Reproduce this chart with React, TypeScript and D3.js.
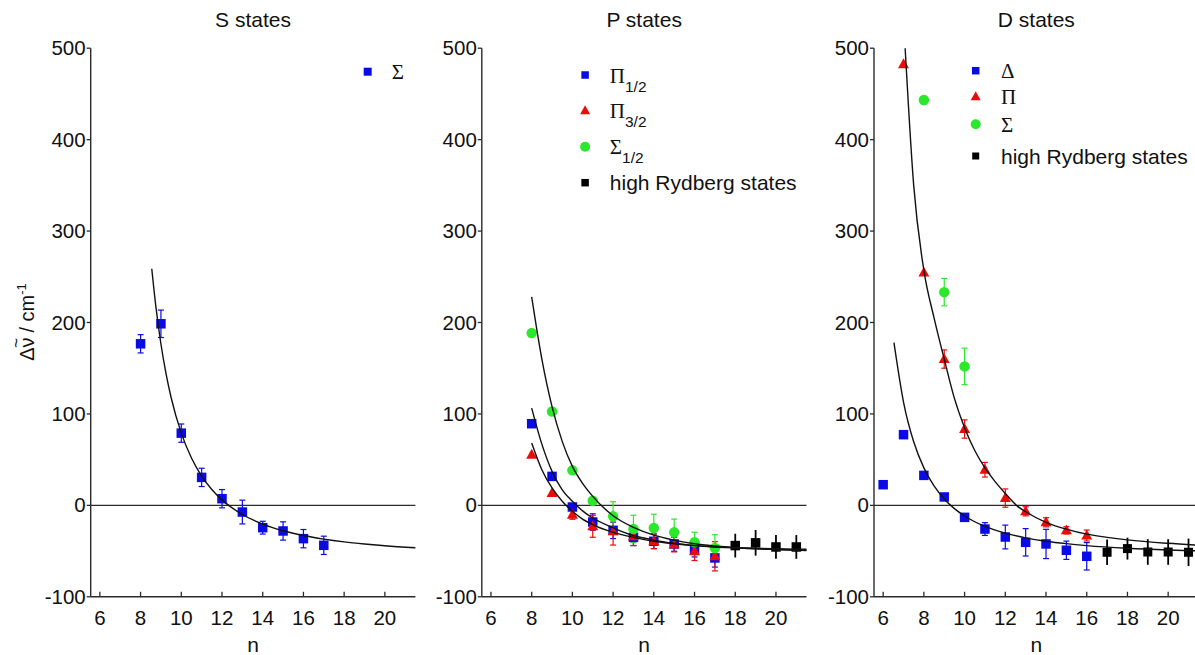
import React from "react";
import * as d3 from "d3";

// ---------- data: S states ----------
const sN = [8, 9, 10, 11, 12, 13, 14, 15, 16, 17];
const sSigma = [176.7, 198.6, 79, 30.6, 7.3, -7.3, -24.4, -28, -36.4, -43.7];
const sSigmaErr = [10, 15, 10, 10, 10, 13, 7, 10, 10, 10];
const sFitN = [8.55, 8.75, 9, 9.25, 9.5, 10, 10.5, 11, 11.5, 12, 13, 14, 15, 16, 17, 18, 19, 20, 21.5];
const sFitV = [258.8, 217.6, 176.5, 144.1, 118, 79, 51.8, 32.1, 17.4, 6, -10, -20.5, -27.8, -33, -36.9, -39.9, -42.2, -44.1, -46.3];

// ---------- data: P states ----------
const pN = [8, 9, 10, 11, 12, 13, 14, 15, 16, 17];
const pPi12 = [89.3, 31.7, -1.8, -18.2, -27.3, -35, -39.3, -42.2, -48.4, -57.5];
const pPi12Err = [0, 0, 0, 9, 9, 9, 8, 8, 8, 10];
const pPi32 = [55.4, 13.5, -10.2, -22.9, -28.4, -33.9, -39.3, -42.9, -50.3, -55.7];
const pPi32Err = [0, 0, 5, 12, 15, 10, 8, 8, 10, 16];
const pSig12 = [188.4, 102.7, 38.3, 5.1, -12, -25.8, -24.7, -29.5, -40.4, -46.6];
const pSig12Err = [0, 0, 0, 0, 16, 15, 15, 14.5, 11, 14.5];
const pHighN = [18, 19, 20, 21];
const pHigh = [-44, -41, -45.5, -45.5];
const pHighErr = [13, 14, 13, 13];
const pFitN = [8, 8.5, 9, 9.5, 10, 10.5, 11, 12, 13, 14, 15, 16, 17, 18, 20, 21.5];
const pFitSig12 = [228, 160, 108, 70, 42.6, 24, 9.8, -11.3, -24, -32.5, -38, -42, -44.5, -46.3, -48.3, -49.3];
const pFitPi12 = [106.4, 67, 37.2, 17, 4.4, -6, -13.8, -24.5, -33, -38, -41.5, -44, -45.5, -46.5, -48.2, -49];
const pFitPi32 = [68.2, 39, 19, 4.5, -6.5, -15, -21, -29.5, -35, -39.3, -42, -44, -45.3, -46.2, -47.4, -48];

// ---------- data: D states ----------
const dDeltaN = [6, 7, 8, 9, 10, 11, 12, 13, 14, 15, 16];
const dDelta = [22.6, 77.3, 32.8, 9.2, -13.1, -25.9, -34.6, -40.4, -42.2, -49.1, -55.7];
const dDeltaErr = [0, 0, 0, 0, 0, 7, 13, 15, 16, 10, 15];
const dPiN = [7, 8, 9, 10, 11, 12, 13, 14, 15, 16];
const dPi = [482.4, 254.6, 160, 83.5, 39, 8, -6.5, -18.5, -27.3, -33];
const dPiErr = [0, 0, 10, 10, 8, 10, 5, 5, 4, 6];
const dSigN = [8, 9, 10];
const dSig = [443.4, 233.2, 152];
const dSigErr = [0, 15, 20];
const dHighN = [17, 18, 19, 20, 21];
const dHigh = [-51.3, -47.3, -51, -51, -51.3];
const dHighErr = [14, 12, 14, 14, 15];
const dFitPiN = [7.08, 7.5, 8, 8.5, 9, 9.5, 10, 10.5, 11, 11.5, 12, 12.55, 13, 14, 15, 16, 17, 18, 20, 21.5];
const dFitPiV = [500, 350, 257, 205, 160, 117, 85, 60, 41, 26, 13, 0, -7, -18.5, -26, -31.5, -35, -37.8, -41.5, -43.5];
const dFitDeltaN = [6.53, 7, 7.5, 8, 8.5, 9, 9.5, 10, 11, 12, 13, 14, 15, 16, 18, 20, 21.5];
const dFitDeltaV = [178, 113, 69.5, 41, 21.2, 7, -3.6, -11.6, -23, -30.4, -35.5, -39.2, -41.9, -44, -46.9, -48.8, -49.8];

// ---------- axes ----------
const xTicks = [6, 8, 10, 12, 14, 16, 18, 20];
const yTicks = [-100, 0, 100, 200, 300, 400, 500];
const titles = ["S states", "P states", "D states"];

// ---------- styling ----------
const SANS = "'Liberation Sans', Arial, Helvetica, sans-serif";
const SERIF = "'Liberation Serif', 'Times New Roman', serif";
const BLUE = "#0a0ae6";
const RED = "#ec0b0b";
const GREEN = "#2ce82c";
const BLACK = "#000000";
const AXIS = "#2a2a2a";
const TEXT = "#111";

const W = 1195;
const H = 655;
const PANEL_LEFTS = [90.7, 481.8, 874];
const PANEL_W = 324.7;
const Y_TOP = 48.2;
const Y_BOTTOM = 596.8;
const legendMarkerDx = [277, 103.3, 101.7];
const legendTextDx = [301, 128, 127];

type Shape = "square" | "triangle" | "circle";
type Series = { n: number[]; v: number[]; err: number[]; shape: Shape; color: string; size: number; caps: boolean };
type Fit = { n: number[]; v: number[] };
type LegendItem = { shape: Shape; color: string; size: number; main: string; sub?: string; serif: boolean; y: number };

const zip = (n: number[], v: number[]) => n.map((d, i) => [d, v[i]] as [number, number]);

function Marker({ shape, x, y, size, color }: { shape: Shape; x: number; y: number; size: number; color: string }) {
  if (shape === "square") {
    return <rect x={x - size / 2} y={y - size / 2} width={size} height={size} fill={color} />;
  }
  if (shape === "circle") {
    return <circle cx={x} cy={y} r={size / 2} fill={color} />;
  }
  const h = size * 0.9;
  return (
    <polygon
      points={`${x},${y - h * 0.6} ${x - size / 2},${y + h * 0.4} ${x + size / 2},${y + h * 0.4}`}
      fill={color}
    />
  );
}

function Panel({ idx, series, fits, legend }: { idx: number; series: Series[]; fits: Fit[]; legend: LegendItem[] }) {
  const left = PANEL_LEFTS[idx];
  const right = left + PANEL_W;
  const x = d3.scaleLinear().domain([5.55, 21.5]).range([left, right]);
  const y = d3.scaleLinear().domain([-100, 500]).range([Y_BOTTOM, Y_TOP]);
  const line = d3
    .line<[number, number]>()
    .x((d) => x(d[0]))
    .y((d) => y(d[1]))
    .curve(d3.curveMonotoneX);
  const cx = (left + right) / 2;
  return (
    <g>
      <text x={cx} y={27} textAnchor="middle" fontFamily={SANS} fontSize={21} fill={TEXT}>
        {titles[idx]}
      </text>
      <line x1={left} x2={right} y1={y(0)} y2={y(0)} stroke={AXIS} strokeWidth={1.3} />
      <line x1={left} x2={left} y1={y(500)} y2={y(-100)} stroke={AXIS} strokeWidth={1.4} />
      <line x1={left} x2={right} y1={y(-100)} y2={y(-100)} stroke={AXIS} strokeWidth={1.4} />
      {yTicks.map((t) => (
        <g key={"y" + t}>
          <line x1={left - 4} x2={left} y1={y(t)} y2={y(t)} stroke={AXIS} strokeWidth={1.3} />
          <text x={left - 5} y={y(t) + 7} textAnchor="end" fontFamily={SANS} fontSize={20.5} fill={TEXT}>
            {t}
          </text>
        </g>
      ))}
      {xTicks.map((t) => (
        <g key={"x" + t}>
          <line x1={x(t)} x2={x(t)} y1={y(-100)} y2={y(-100) - 5} stroke={AXIS} strokeWidth={1.3} />
          <text x={x(t)} y={y(-100) + 28} textAnchor="middle" fontFamily={SANS} fontSize={20.5} fill={TEXT}>
            {t}
          </text>
        </g>
      ))}
      <text x={cx} y={652} textAnchor="middle" fontFamily={SANS} fontSize={21} fill={TEXT}>
        n
      </text>
      {series.map((s, si) =>
        s.n.map((n, i) => {
          const e = s.err[i];
          if (!e) return null;
          const px = x(n);
          return (
            <g key={`e${si}-${i}`} stroke={s.color} strokeWidth={s.caps ? 1.2 : 1.8}>
              <line x1={px} x2={px} y1={y(s.v[i] - e)} y2={y(s.v[i] + e)} />
              {s.caps && (
                <>
                  <line x1={px - 3} x2={px + 3} y1={y(s.v[i] - e)} y2={y(s.v[i] - e)} />
                  <line x1={px - 3} x2={px + 3} y1={y(s.v[i] + e)} y2={y(s.v[i] + e)} />
                </>
              )}
            </g>
          );
        })
      )}
      {series.map((s, si) =>
        s.n.map((n, i) => (
          <Marker key={`m${si}-${i}`} shape={s.shape} x={x(n)} y={y(s.v[i])} size={s.size} color={s.color} />
        ))
      )}
      {fits.map((f, fi) => (
        <path key={"f" + fi} d={line(zip(f.n, f.v)) || ""} fill="none" stroke="#111" strokeWidth={1.4} />
      ))}
      {legend.map((l, li) => (
        <g key={"l" + li}>
          <Marker shape={l.shape} x={left + legendMarkerDx[idx]} y={l.y} size={l.size} color={l.color} />
          <text
            x={left + legendTextDx[idx]}
            y={l.y + 7.5}
            fontFamily={l.serif ? SERIF : SANS}
            fontSize={21}
            fill={TEXT}
          >
            {l.main}
            {l.sub && (
              <tspan fontFamily={SANS} fontSize={15.5} dy={9}>
                {l.sub}
              </tspan>
            )}
          </text>
        </g>
      ))}
    </g>
  );
}

export default function App() {
  const sSeries: Series[] = [
    { n: sN, v: sSigma, err: sSigmaErr, shape: "square", color: BLUE, size: 9.5, caps: true },
  ];
  const sFits: Fit[] = [{ n: sFitN, v: sFitV }];
  const sLegend: LegendItem[] = [{ shape: "square", color: BLUE, size: 8, main: "Σ", serif: true, y: 71.7 }];

  const pSeries: Series[] = [
    { n: pN, v: pPi12, err: pPi12Err, shape: "square", color: BLUE, size: 9.5, caps: true },
    { n: pN, v: pPi32, err: pPi32Err, shape: "triangle", color: RED, size: 11, caps: true },
    { n: pN, v: pSig12, err: pSig12Err, shape: "circle", color: GREEN, size: 10.5, caps: true },
    { n: pHighN, v: pHigh, err: pHighErr, shape: "square", color: BLACK, size: 9.5, caps: false },
  ];
  const pFits: Fit[] = [
    { n: pFitN, v: pFitSig12 },
    { n: pFitN, v: pFitPi12 },
    { n: pFitN, v: pFitPi32 },
  ];
  const pLegend: LegendItem[] = [
    { shape: "square", color: BLUE, size: 7.5, main: "Π", sub: "1/2", serif: true, y: 75 },
    { shape: "triangle", color: RED, size: 10, main: "Π", sub: "3/2", serif: true, y: 110.7 },
    { shape: "circle", color: GREEN, size: 10, main: "Σ", sub: "1/2", serif: true, y: 146.7 },
    { shape: "square", color: BLACK, size: 7.5, main: "high Rydberg states", serif: false, y: 182.7 },
  ];

  const dSeries: Series[] = [
    { n: dDeltaN, v: dDelta, err: dDeltaErr, shape: "square", color: BLUE, size: 9.5, caps: true },
    { n: dPiN, v: dPi, err: dPiErr, shape: "triangle", color: RED, size: 11, caps: true },
    { n: dSigN, v: dSig, err: dSigErr, shape: "circle", color: GREEN, size: 10.5, caps: true },
    { n: dHighN, v: dHigh, err: dHighErr, shape: "square", color: BLACK, size: 9, caps: false },
  ];
  const dFits: Fit[] = [
    { n: dFitPiN, v: dFitPiV },
    { n: dFitDeltaN, v: dFitDeltaV },
  ];
  const dLegend: LegendItem[] = [
    { shape: "square", color: BLUE, size: 7.5, main: "Δ", serif: true, y: 70.7 },
    { shape: "triangle", color: RED, size: 10, main: "Π", serif: true, y: 96.7 },
    { shape: "circle", color: GREEN, size: 10, main: "Σ", serif: true, y: 124.3 },
    { shape: "square", color: BLACK, size: 7, main: "high Rydberg states", serif: false, y: 156 },
  ];

  return (
    <svg
      width={W}
      height={H}
      viewBox={`0 0 ${W} ${H}`}
      style={{ position: "fixed", left: 0, top: 0, background: "#fff" }}
    >
      <rect x={0} y={0} width={W} height={H} fill="#fff" />
      <text transform="translate(34,322) rotate(-90)" textAnchor="middle" fontFamily={SANS} fontSize={20} fill={TEXT}>
        <tspan>Δν</tspan>
        <tspan dx={-10.5} dy={-12} fontSize={17}>~</tspan>
        <tspan dx={0} dy={12}>{" / cm"}</tspan>
        <tspan fontSize={13} dy={-8}>-1</tspan>
      </text>
      <Panel idx={0} series={sSeries} fits={sFits} legend={sLegend} />
      <Panel idx={1} series={pSeries} fits={pFits} legend={pLegend} />
      <Panel idx={2} series={dSeries} fits={dFits} legend={dLegend} />
    </svg>
  );
}
